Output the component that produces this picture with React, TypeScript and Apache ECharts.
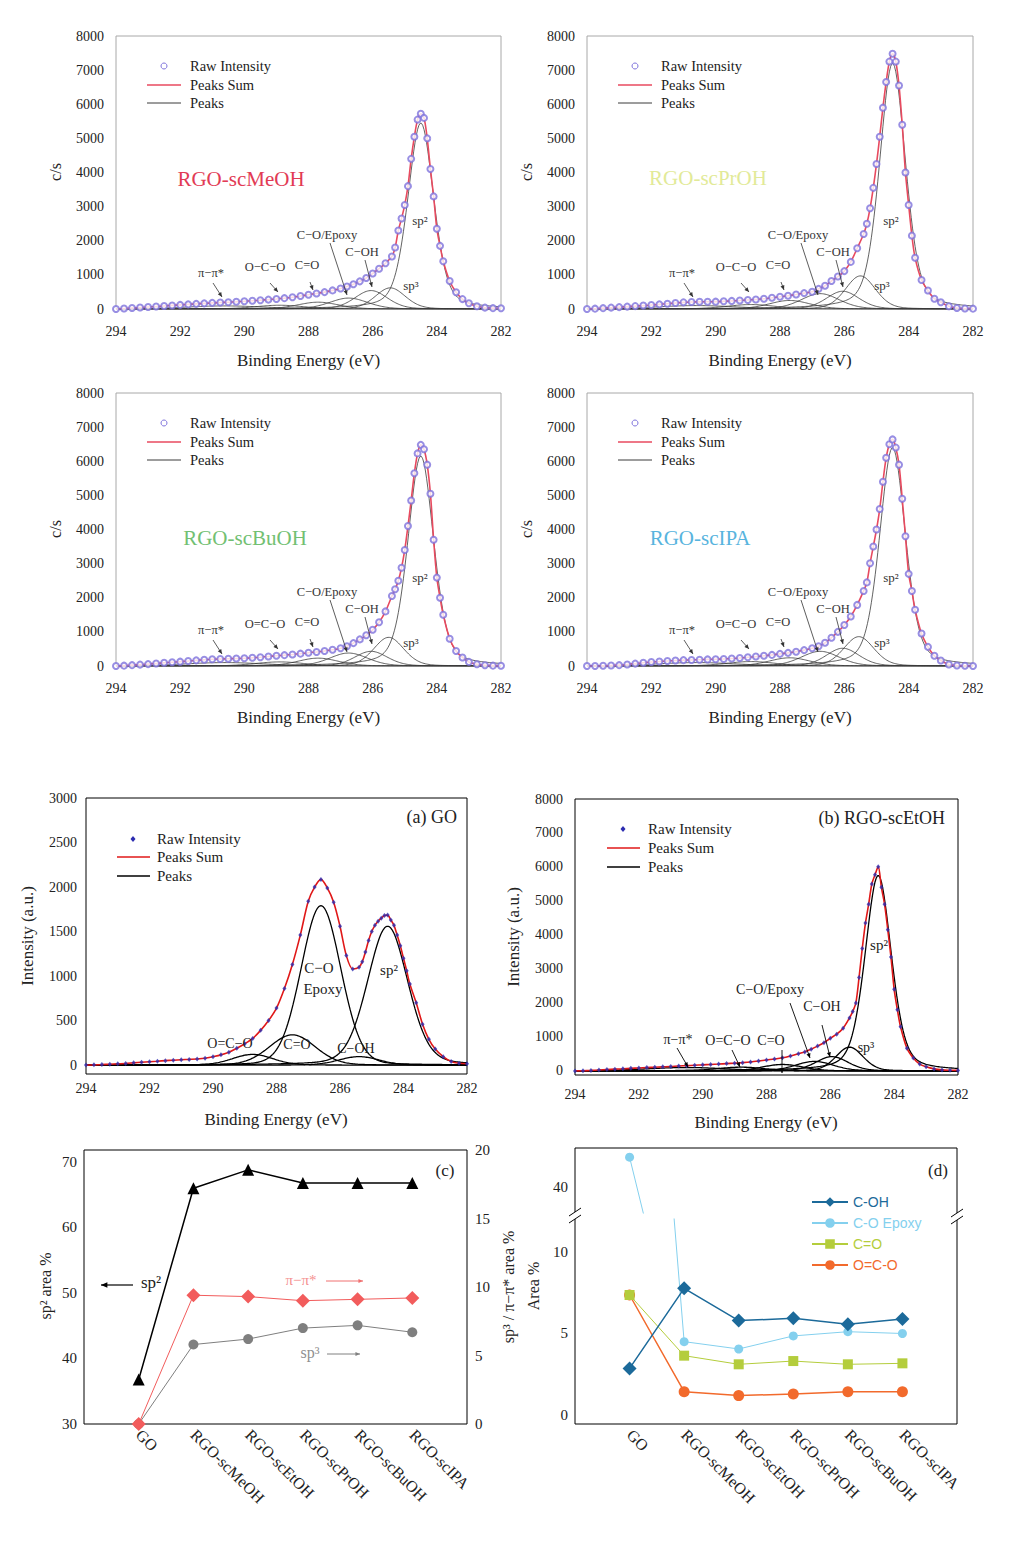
import React, { useEffect, useRef } from "react";
import * as echarts from "echarts";

const SERIF = '"Liberation Serif", "Times New Roman", serif';
const SANS = '"Liberation Sans", Arial, sans-serif';

// Binding-energy grid of the raw data (eV)
const E = [294, 293.75, 293.5, 293.25, 293, 292.75, 292.5, 292.25, 292, 291.75, 291.5, 291.25, 291,
  290.75, 290.5, 290.25, 290, 289.75, 289.5, 289.25, 289, 288.75, 288.5, 288.25, 288, 287.75, 287.5, 287.25, 287,
  286.8, 286.6, 286.4, 286.2, 286, 285.8, 285.6, 285.4,
  285.3, 285.2, 285.1, 285, 284.9, 284.8, 284.7, 284.6, 284.5, 284.4, 284.3, 284.2, 284.1, 284, 283.9, 283.8,
  283.6, 283.4, 283.2, 283, 282.75, 282.5, 282.25, 282];

// Raw intensities (c/s)
const rawMeOH = [0, 15, 30, 45, 60, 75, 90, 105, 120, 135, 150, 165, 180,
  190, 200, 212, 225, 240, 258, 275, 295, 318, 345, 380, 420, 455, 495, 545, 600,
  660, 725, 810, 910, 1040, 1180, 1340, 1540,
  1800, 2300, 2650, 3050, 3600, 4400, 5050, 5550, 5720, 5600, 5000, 4100, 3300, 2350, 1850, 1400,
  820, 490, 290, 170, 80, 40, 25, 20];
const rawPrOH = [0, 10, 25, 40, 55, 70, 85, 100, 115, 135, 155, 175, 195,
  205, 210, 213, 215, 225, 237, 250, 262, 280, 300, 328, 358, 390, 425, 465, 505,
  590, 680, 820, 950, 1110, 1380, 1780, 2200,
  2500, 2950, 3550, 4250, 5050, 5900, 6650, 7250, 7480, 7250, 6550, 5400, 4000, 3050, 2150, 1500,
  850, 540, 300, 200, 80, 30, 15, 10];
const rawBuOH = [0, 10, 25, 40, 55, 75, 95, 112, 127, 145, 165, 185, 200,
  207, 212, 218, 225, 240, 258, 280, 300, 318, 338, 362, 390, 412, 440, 475, 520,
  580, 670, 780, 900, 1060, 1280, 1600, 2050,
  2250, 2500, 2880, 3400, 4100, 4850, 5650, 6230, 6480, 6350, 5900, 5050, 3700, 2590, 2000, 1500,
  800, 440, 250, 120, 50, 20, 10, 5];
const rawIPA = [0, 0, 5, 15, 25, 45, 70, 95, 118, 130, 145, 160, 172,
  178, 185, 193, 200, 207, 220, 235, 255, 276, 300, 325, 355, 385, 420, 465, 518,
  580, 680, 830, 1000, 1200, 1450, 1790, 2200,
  2450, 3010, 3500, 4000, 4600, 5400, 6100, 6500, 6640, 6400, 5900, 4900, 3800, 2700, 2200, 1650,
  950, 560, 300, 160, 45, 15, 5, 0];
const rawGO = [0, 3, 6, 10, 14, 18, 25, 32, 38, 44, 50, 55, 60,
  64, 68, 76, 94, 115, 145, 190, 240, 300, 390, 500, 640, 860, 1130, 1460, 1840,
  2000, 2086, 1990, 1830, 1560, 1230, 1080, 1100,
  1160, 1270, 1400, 1500, 1570, 1615, 1650, 1680, 1685, 1630, 1570, 1460, 1340, 1200, 1060, 910,
  700, 460, 290, 180, 94, 40, 20, 15];
const rawEtOH = [0, 5, 15, 28, 40, 52, 63, 75, 87, 100, 110, 120, 130,
  145, 155, 168, 178, 190, 202, 215, 228, 243, 262, 290, 322, 350, 385, 440, 505,
  560, 640, 730, 830, 960, 1080, 1255, 1560,
  1745, 2000, 2750, 3600, 4350, 4900, 5500, 5770, 6010, 5400, 4900, 4150, 3350, 2400, 1800, 1300,
  670, 380, 200, 120, 60, 30, 20, 15];

// Fitted component peaks: [centre eV, height c/s, FWHM eV, Lorentzian fraction]
// order: sp2, sp3, C-OH, C-O/Epoxy, C=O, O-C-O, pi-pi*
const peaksMeOH = [[284.5, 5450, 0.95, 0.35], [285.45, 620, 1.1, 0.2], [286.05, 540, 1.2, 0.2], [286.75, 320, 1.4, 0.2], [287.7, 200, 1.5, 0.2], [288.9, 110, 1.8, 0.2], [290.6, 90, 3.0, 0.2]];
const peaksPrOH = [[284.5, 7200, 0.95, 0.35], [285.5, 970, 1.1, 0.2], [286.05, 520, 1.2, 0.2], [286.75, 450, 1.4, 0.2], [287.7, 250, 1.5, 0.2], [288.9, 130, 1.8, 0.2], [290.6, 100, 3.0, 0.2]];
const peaksBuOH = [[284.5, 6150, 0.95, 0.35], [285.5, 840, 1.1, 0.2], [286.05, 430, 1.2, 0.2], [286.75, 380, 1.4, 0.2], [287.7, 230, 1.5, 0.2], [288.9, 120, 1.8, 0.2], [290.6, 100, 3.0, 0.2]];
const peaksIPA = [[284.5, 6400, 0.95, 0.35], [285.55, 860, 1.1, 0.2], [286.05, 520, 1.2, 0.2], [286.75, 430, 1.4, 0.2], [287.7, 240, 1.5, 0.2], [288.9, 130, 1.8, 0.2], [290.6, 100, 3.0, 0.2]];
const peaksEtOH = [[284.5, 5750, 0.97, 0.35], [285.4, 700, 1.0, 0.2], [285.95, 420, 1.2, 0.2], [286.5, 280, 1.4, 0.2], [287.5, 190, 1.5, 0.2], [288.8, 110, 1.8, 0.2], [290.5, 100, 3.0, 0.2]];
// GO: sp2, C-OH, C-O Epoxy, C=O, O=C-O
const peaksGO = [[284.5, 1560, 1.5, 0.2], [285.4, 95, 1.5, 0.1], [286.6, 1790, 1.48, 0.1], [287.5, 340, 1.7, 0.1], [288.75, 120, 1.5, 0.1]];

// Panel (c) and (d) data
const categories = ["GO", "RGO-scMeOH", "RGO-scEtOH", "RGO-scPrOH", "RGO-scBuOH", "RGO-scIPA"];
const sp2Area = [36.8, 66.0, 68.8, 66.8, 66.8, 66.8];
const piArea = [0, 9.4, 9.3, 9.0, 9.1, 9.2];
const sp3Area = [0, 5.8, 6.2, 7.0, 7.2, 6.7];
const cohArea = [2.86, 7.77, 5.79, 5.93, 5.56, 5.89];
const epoxyArea = [45.5, 4.5, 4.05, 4.85, 5.11, 5.0];
const coArea = [7.36, 3.64, 3.11, 3.31, 3.11, 3.17];
const ocoArea = [7.36, 1.43, 1.19, 1.29, 1.43, 1.43];

const xpsTicks = [0, 1000, 2000, 3000, 4000, 5000, 6000, 7000, 8000];
const goTicks = [0, 500, 1000, 1500, 2000, 2500, 3000];

function pv(p: number[], x: number) {
  const [c, h, w, eta] = p;
  const d = (x - c) / w;
  return h * ((1 - eta) * Math.exp(-4 * Math.LN2 * d * d) + eta / (1 + 4 * d * d));
}

const SX: number[] = [];
for (let k = 0; k <= 300; k++) SX.push(282 + k * 0.04);

const plain = (v: number) => String(v);

function buildOption() {
  const grids: any[] = [
    { left: 116, top: 36, width: 385, height: 273 },
    { left: 587, top: 36, width: 386, height: 273 },
    { left: 116, top: 393, width: 385, height: 273 },
    { left: 587, top: 393, width: 386, height: 273 },
    { left: 86, top: 798, width: 381, height: 276 },
    { left: 575, top: 799, width: 383, height: 276 },
    { left: 84, top: 1150, width: 383, height: 274 },
    { left: 575, top: 1148, width: 382, height: 65 },
    { left: 575, top: 1219, width: 382, height: 205 },
  ];
  grids.forEach((g, i) => {
    g.show = i <= 6;
    g.borderColor = i < 4 ? "#a8a8a8" : "#000";
    g.borderWidth = 1;
    g.backgroundColor = "transparent";
    g.containLabel = false;
  });

  const xAxis: any[] = [];
  const yAxis: any[] = [];
  const lab = (size: number, margin: number, extra: any = {}) => ({
    fontSize: size, fontFamily: SERIF, color: "#222", margin, ...extra,
  });

  for (let i = 0; i < 6; i++) {
    const isTop = i < 4;
    xAxis.push({
      type: "value", gridIndex: i, min: 282, max: 294, interval: 2, inverse: true,
      axisLine: { show: false }, axisTick: { show: false }, splitLine: { show: false },
      axisLabel: lab(14, i === 4 ? 7 : i === 5 ? 12 : 15, { formatter: plain }),
    });
    const ticks = i === 4 ? goTicks : xpsTicks;
    yAxis.push({
      type: "value", gridIndex: i,
      min: i === 4 ? -100 : i === 5 ? -120 : 0,
      max: i === 4 ? 3000 : 8000,
      axisLine: { show: false }, splitLine: { show: false },
      axisTick: { show: false, customValues: ticks },
      axisLabel: lab(14, isTop ? 12 : i === 4 ? 9 : 12, { customValues: ticks, formatter: plain }),
    });
  }
  const cats8 = ["", ...categories, ""];
  // (c)
  xAxis.push({
    type: "category", gridIndex: 6, data: cats8, boundaryGap: false,
    axisLine: { show: false }, axisTick: { show: false },
    axisLabel: lab(16, 8, { rotate: -45, interval: 0 }),
  });
  yAxis.push({
    type: "value", gridIndex: 6, min: 30, max: 71.83, position: "left",
    axisLine: { show: false }, splitLine: { show: false },
    axisTick: { show: false, customValues: [30, 40, 50, 60, 70] },
    axisLabel: lab(15, 7, { customValues: [30, 40, 50, 60, 70], formatter: plain }),
  });
  yAxis.push({
    type: "value", gridIndex: 6, min: 0, max: 20, interval: 5, position: "right",
    axisLine: { show: false }, splitLine: { show: false }, axisTick: { show: false },
    axisLabel: lab(15, 8, { formatter: plain }),
  });
  // (d) upper & lower
  xAxis.push({
    type: "category", gridIndex: 7, data: cats8, boundaryGap: false, show: false,
  });
  xAxis.push({
    type: "category", gridIndex: 8, data: cats8, boundaryGap: false,
    axisLine: { show: false }, axisTick: { show: false },
    axisLabel: lab(16, 8, { rotate: -45, interval: 0 }),
  });
  yAxis.push({
    type: "value", gridIndex: 7, min: 35.2, max: 47.2,
    axisLine: { show: false }, splitLine: { show: false },
    axisTick: { show: false, customValues: [40] },
    axisLabel: lab(15, 7, { customValues: [40], formatter: plain }),
  });
  yAxis.push({
    type: "value", gridIndex: 8, min: -0.55, max: 12.02,
    axisLine: { show: false }, splitLine: { show: false },
    axisTick: { show: false, customValues: [0, 5, 10] },
    axisLabel: lab(15, 7, { customValues: [0, 5, 10], formatter: plain }),
  });

  const series: any[] = [];
  const specs = [
    { raw: rawMeOH, peaks: peaksMeOH },
    { raw: rawPrOH, peaks: peaksPrOH },
    { raw: rawBuOH, peaks: peaksBuOH },
    { raw: rawIPA, peaks: peaksIPA },
    { raw: rawGO, peaks: peaksGO },
    { raw: rawEtOH, peaks: peaksEtOH },
  ];
  specs.forEach((s, i) => {
    const isTop = i < 4;
    s.peaks.forEach((p) => {
      series.push({
        name: "Peaks", type: "line", xAxisIndex: i, yAxisIndex: i, silent: true,
        data: SX.map((x) => [x, pv(p, x)]), showSymbol: false, z: 2,
        lineStyle: { color: isTop ? "#3a3a3a" : "#000", width: isTop ? 0.8 : 1.3 },
      });
    });
    const pts = E.map((x, j) => [x, s.raw[j]]);
    series.push({
      name: "Peaks Sum", type: "line", xAxisIndex: i, yAxisIndex: i, silent: true,
      data: pts, smooth: 0.3, showSymbol: false, z: 3,
      lineStyle: { color: isTop ? "#e84a5f" : "#e01818", width: 1.6 },
    });
    series.push({
      name: "Raw Intensity", type: "scatter", xAxisIndex: i, yAxisIndex: i, silent: true,
      data: pts, z: 4,
      symbol: isTop ? "emptyCircle" : "diamond",
      symbolSize: isTop ? 6 : [4, 5],
      itemStyle: isTop
        ? { color: "#7e72dc", borderColor: "#7e72dc", borderWidth: 0.9 }
        : { color: "#2c2cb0" },
    });
  });

  const pad = (a: any[]) => ["-", ...a, "-"];
  // (c)
  series.push({
    name: "sp2", type: "line", xAxisIndex: 6, yAxisIndex: 6, data: pad(sp2Area),
    symbol: "triangle", symbolSize: 12, itemStyle: { color: "#000" },
    lineStyle: { color: "#000", width: 1.5 }, z: 5, clip: false,
  });
  series.push({
    name: "sp3", type: "line", xAxisIndex: 6, yAxisIndex: 7, data: pad(sp3Area),
    symbol: "circle", symbolSize: 10, itemStyle: { color: "#7f7f7f" },
    lineStyle: { color: "#7f7f7f", width: 1 }, z: 5, clip: false,
  });
  series.push({
    name: "π−π*", type: "line", xAxisIndex: 6, yAxisIndex: 7, data: pad(piArea),
    symbol: "diamond", symbolSize: 14, itemStyle: { color: "#f25c5c" },
    lineStyle: { color: "#f25c5c", width: 1 }, z: 6, clip: false,
  });
  // (d)
  const dStyle = [
    { name: "C-O Epoxy", data: epoxyArea, symbol: "circle", size: 9, color: "#84d0ee", w: 1 },
    { name: "O=C-O", data: ocoArea, symbol: "circle", size: 11, color: "#f26a2c", w: 1.5 },
    { name: "C=O", data: coArea, symbol: "rect", size: 10, color: "#b4cd3c", w: 1 },
    { name: "C-OH", data: cohArea, symbol: "diamond", size: 14, color: "#1c6a9a", w: 1.5 },
  ];
  dStyle.forEach((d) => {
    series.push({
      name: d.name, type: "line", xAxisIndex: 8, yAxisIndex: 9, data: pad(d.data),
      symbol: d.symbol, symbolSize: d.size, itemStyle: { color: d.color },
      lineStyle: { color: d.color, width: d.w }, z: 5, clip: true,
    });
  });
  series.push({
    name: "C-O Epoxy", type: "line", xAxisIndex: 7, yAxisIndex: 8,
    data: pad([epoxyArea[0], epoxyArea[1], "-", "-", "-", "-"]),
    symbol: "circle", symbolSize: 9, itemStyle: { color: "#84d0ee" },
    lineStyle: { color: "#84d0ee", width: 1 }, z: 5, clip: true,
  });

  // ---------- graphics ----------
  const g: any[] = [];
  const txt = (x: number, y: number, text: string, size: number, fill = "#222", extra: any = {}, rotation = 0, font = SERIF) => {
    g.push({
      type: "text", x, y, rotation, silent: true, z: 20,
      style: { text, fontSize: size, fontFamily: font, fill, align: "center", verticalAlign: "middle", ...extra },
    });
  };
  const arrow = (x1: number, y1: number, x2: number, y2: number, color: string, lw = 0.8, head = 5) => {
    const a = Math.atan2(y2 - y1, x2 - x1);
    const p1 = [x2 - head * Math.cos(a - 0.42), y2 - head * Math.sin(a - 0.42)];
    const p2 = [x2 - head * Math.cos(a + 0.42), y2 - head * Math.sin(a + 0.42)];
    g.push({ type: "line", silent: true, z: 20, shape: { x1, y1, x2, y2 }, style: { stroke: color, lineWidth: lw } });
    g.push({ type: "polygon", silent: true, z: 20, shape: { points: [[x2, y2], p1, p2] }, style: { fill: color } });
  };

  const topNames = [
    { t: "RGO-scMeOH", c: "#e23b55", dx: 125, dy: 143 },
    { t: "RGO-scPrOH", c: "#e2ea98", dx: 121, dy: 142 },
    { t: "RGO-scBuOH", c: "#72c072", dx: 129, dy: 145 },
    { t: "RGO-scIPA", c: "#58b4de", dx: 113, dy: 145 },
  ];
  for (let i = 0; i < 4; i++) {
    const L = grids[i].left, T = grids[i].top, W = grids[i].width, H = grids[i].height;
    // legend
    g.push({ type: "circle", silent: true, z: 20, shape: { cx: L + 48, cy: T + 30, r: 3 }, style: { fill: "#fff", stroke: "#7e72dc", lineWidth: 1 } });
    g.push({ type: "line", silent: true, z: 20, shape: { x1: L + 31, y1: T + 49, x2: L + 65, y2: T + 49 }, style: { stroke: "#e84a5f", lineWidth: 1.6 } });
    g.push({ type: "line", silent: true, z: 20, shape: { x1: L + 31, y1: T + 67, x2: L + 65, y2: T + 67 }, style: { stroke: "#3a3a3a", lineWidth: 1 } });
    txt(L + 74, T + 30, "Raw Intensity", 14.5, "#222", { align: "left" });
    txt(L + 74, T + 49, "Peaks Sum", 14.5, "#222", { align: "left" });
    txt(L + 74, T + 67, "Peaks", 14.5, "#222", { align: "left" });
    // sample name
    txt(L + topNames[i].dx, T + topNames[i].dy, topNames[i].t, 21, topNames[i].c);
    // axis titles
    txt(L - 61, T + 136, "c/s", 16, "#222", {}, Math.PI / 2);
    txt(L + W / 2, T + H + 51, "Binding Energy (eV)", 17, "#222");
    // peak annotations
    const oco = i < 2 ? "O−C−O" : "O=C−O";
    txt(L + 95, T + 237, "π−π*", 12.5, "#333");
    arrow(L + 97, T + 247, L + 106, T + 261, "#333");
    txt(L + 149, T + 231, oco, 12.5, "#333");
    arrow(L + 154, T + 247, L + 162, T + 256, "#333");
    txt(L + 191, T + 229, "C=O", 12.5, "#333");
    arrow(L + 194, T + 246, L + 197, T + 254, "#333");
    txt(L + 211, T + 199, "C−O/Epoxy", 12.5, "#333");
    arrow(L + 214, T + 207, L + 231, T + 259, "#333");
    txt(L + 246, T + 216, "C−OH", 12.5, "#333");
    arrow(L + 249, T + 224, L + 256, T + 251, "#333");
    txt(L + 304, T + 184, "sp²", 13, "#333");
    txt(L + 295, T + 249, "sp³", 13, "#333");
  }

  // (a) GO
  g.push({ type: "polygon", silent: true, z: 20, shape: { points: [[133, 836], [135.5, 839], [133, 842], [130.5, 839]] }, style: { fill: "#2c2cb0" } });
  g.push({ type: "line", silent: true, z: 20, shape: { x1: 117, y1: 857, x2: 150, y2: 857 }, style: { stroke: "#e01818", lineWidth: 1.6 } });
  g.push({ type: "line", silent: true, z: 20, shape: { x1: 117, y1: 876, x2: 150, y2: 876 }, style: { stroke: "#000", lineWidth: 1.3 } });
  txt(157, 839, "Raw Intensity", 15, "#222", { align: "left" });
  txt(157, 857, "Peaks Sum", 15, "#222", { align: "left" });
  txt(157, 876, "Peaks", 15, "#222", { align: "left" });
  txt(457, 817, "(a) GO", 18, "#222", { align: "right" });
  txt(319, 968, "C−O", 15);
  txt(323, 989, "Epoxy", 15);
  txt(389, 970, "sp²", 15);
  txt(230, 1043, "O=C−O", 14);
  txt(297, 1044, "C=O", 14);
  txt(356, 1048, "C−OH", 14);
  txt(27, 936, "Intensity (a.u.)", 17, "#222", {}, Math.PI / 2);
  txt(276, 1119, "Binding Energy (eV)", 17);

  // (b) RGO-scEtOH
  g.push({ type: "polygon", silent: true, z: 20, shape: { points: [[623, 826], [625.5, 829], [623, 832], [620.5, 829]] }, style: { fill: "#2c2cb0" } });
  g.push({ type: "line", silent: true, z: 20, shape: { x1: 607, y1: 848, x2: 640, y2: 848 }, style: { stroke: "#e01818", lineWidth: 1.6 } });
  g.push({ type: "line", silent: true, z: 20, shape: { x1: 607, y1: 867, x2: 640, y2: 867 }, style: { stroke: "#000", lineWidth: 1.3 } });
  txt(648, 829, "Raw Intensity", 15, "#222", { align: "left" });
  txt(648, 848, "Peaks Sum", 15, "#222", { align: "left" });
  txt(648, 867, "Peaks", 15, "#222", { align: "left" });
  txt(945, 818, "(b) RGO-scEtOH", 18, "#222", { align: "right" });
  txt(770, 989, "C−O/Epoxy", 14);
  txt(822, 1006, "C−OH", 14);
  txt(678, 1039, "π−π*", 14);
  txt(728, 1040, "O=C−O", 14);
  txt(771, 1040, "C=O", 14);
  txt(879, 945, "sp²", 15);
  txt(866, 1047, "sp³", 14);
  arrow(677, 1048, 688, 1067, "#000", 0.9);
  arrow(732, 1050, 740, 1067, "#000", 0.9);
  arrow(782, 1050, 782, 1073, "#000", 0.9);
  arrow(790, 1003, 810, 1058, "#000", 0.9);
  arrow(822, 1025, 830, 1057, "#000", 0.9);
  txt(513, 937, "Intensity (a.u.)", 17, "#222", {}, Math.PI / 2);
  txt(766, 1122, "Binding Energy (eV)", 17);

  // (c)
  txt(445, 1170, "(c)", 17);
  txt(151, 1282, "sp²", 17);
  arrow(133, 1285, 101, 1285, "#000", 1.2, 7);
  txt(301, 1280, "π−π*", 15, "#f59090");
  arrow(326, 1281, 363, 1281, "#f07070", 1, 5);
  txt(310, 1352, "sp³", 16, "#909090");
  arrow(327, 1354, 360, 1354, "#808080", 1, 5);
  txt(45, 1286, "sp² area %", 16, "#222", {}, Math.PI / 2);
  txt(508, 1287, "sp³ / π−π* area %", 16, "#222", {}, Math.PI / 2);

  // (d)
  g.push({ type: "rect", silent: true, z: 15, shape: { x: 575, y: 1148, width: 382, height: 276 }, style: { fill: "none", stroke: "#000", lineWidth: 1 } });
  g.push({ type: "rect", silent: true, z: 16, shape: { x: 571, y: 1212, width: 9, height: 7 }, style: { fill: "#fff" } });
  g.push({ type: "rect", silent: true, z: 16, shape: { x: 953, y: 1213, width: 9, height: 7 }, style: { fill: "#fff" } });
  g.push({ type: "line", silent: true, z: 17, shape: { x1: 569, y1: 1216, x2: 581, y2: 1208 }, style: { stroke: "#000", lineWidth: 1 } });
  g.push({ type: "line", silent: true, z: 17, shape: { x1: 569, y1: 1223, x2: 581, y2: 1215 }, style: { stroke: "#000", lineWidth: 1 } });
  g.push({ type: "line", silent: true, z: 17, shape: { x1: 951, y1: 1217, x2: 963, y2: 1209 }, style: { stroke: "#000", lineWidth: 1 } });
  g.push({ type: "line", silent: true, z: 17, shape: { x1: 951, y1: 1224, x2: 963, y2: 1216 }, style: { stroke: "#000", lineWidth: 1 } });
  txt(938, 1170, "(d)", 17);
  txt(533, 1286, "Area %", 16, "#222", {}, Math.PI / 2);

  return {
    animation: false,
    backgroundColor: "#fff",
    textStyle: { fontFamily: SERIF },
    grid: grids,
    xAxis,
    yAxis,
    legend: {
      left: 806, top: 1190, orient: "vertical", itemWidth: 36, itemHeight: 12, itemGap: 7,
      selectedMode: false,
      textStyle: { fontFamily: SANS, fontSize: 14 },
      data: [
        { name: "C-OH", textStyle: { color: "#1c6a9a" } },
        { name: "C-O Epoxy", textStyle: { color: "#84d0ee" } },
        { name: "C=O", textStyle: { color: "#b4cd3c" } },
        { name: "O=C-O", textStyle: { color: "#f26a2c" } },
      ],
    },
    series,
    graphic: { elements: g },
  };
}

export default function App() {
  const ref = useRef<HTMLDivElement>(null);
  useEffect(() => {
    if (!ref.current) return;
    const chart = echarts.init(ref.current, undefined, { renderer: "svg" });
    chart.setOption(buildOption() as any);
    return () => chart.dispose();
  }, []);
  return (
    <div
      ref={ref}
      style={{ position: "absolute", left: 0, top: 0, width: 1032, height: 1558, background: "#fff" }}
    />
  );
}
